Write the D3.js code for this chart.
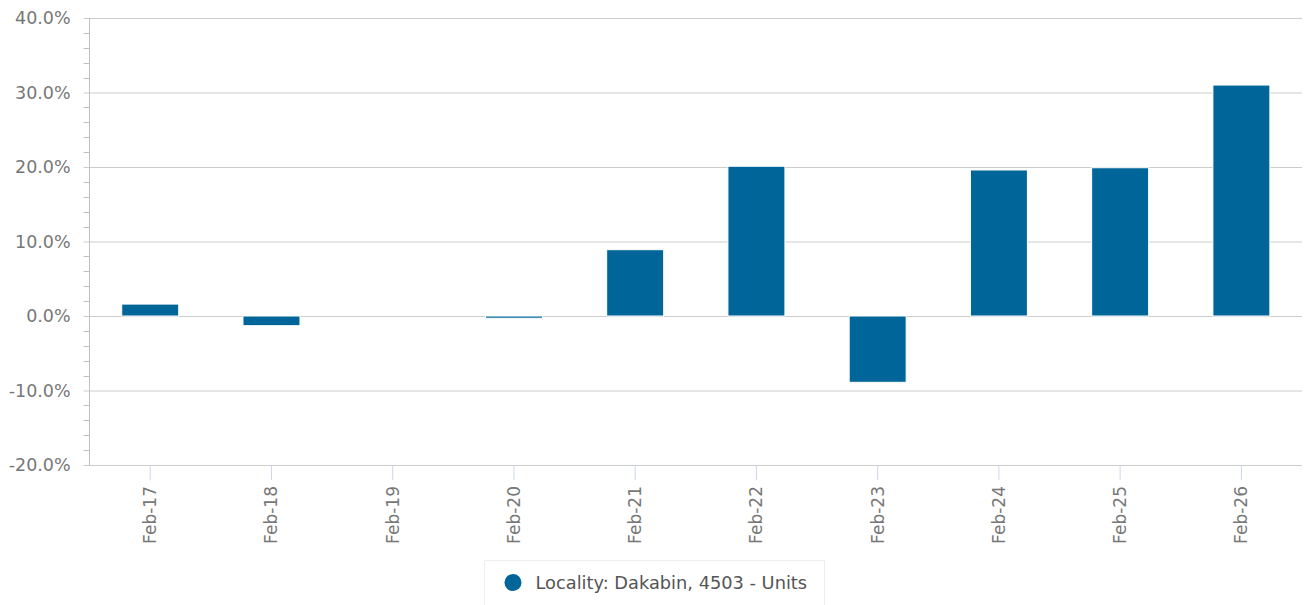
<!DOCTYPE html>
<html>
<head>
<meta charset="utf-8">
<script src="https://cdn.jsdelivr.net/npm/d3@7"></script>
<style>
  body { margin: 0; background: #fff; }
  text { font-family: "DejaVu Sans", sans-serif; }
</style>
</head>
<body>
<div id="chart"></div>
<script>
// data
var categories = ["Feb-17", "Feb-18", "Feb-19", "Feb-20", "Feb-21", "Feb-22", "Feb-23", "Feb-24", "Feb-25", "Feb-26"];
var values = [1.6, -1.3, 0, -0.3, 8.9, 20.1, -8.9, 19.6, 19.9, 31.0];
var yTicks = [-20, -10, 0, 10, 20, 30, 40];
var seriesName = "Locality: Dakabin, 4503 - Units";

var width = 1306, height = 605;
var margin = {top: 18, right: 4, bottom: 140, left: 89.6};
var plotW = width - margin.left - margin.right,
    plotH = height - margin.top - margin.bottom;
var barColor = "#006699";

var svg = d3.select("#chart")
  .append("svg")
  .attr("width", width)
  .attr("height", height);

var g = svg.append("g")
  .attr("transform", "translate(" + margin.left + "," + margin.top + ")");

var x = d3.scaleBand()
  .domain(categories)
  .range([0, plotW])
  .paddingInner(0.53)
  .paddingOuter(0.265);

var y = d3.scaleLinear()
  .domain([-20, 40])
  .range([plotH, 0]);

// minor ticks on the left
var minor = d3.range(-20, 40.001, 2).filter(function(v){ return v % 10 != 0; });
g.append("g")
  .selectAll("line")
  .data(minor)
  .enter().append("line")
  .attr("x1", -6).attr("x2", 0)
  .attr("y1", function(d){ return Math.round(y(d)) + 0.5; })
  .attr("y2", function(d){ return Math.round(y(d)) + 0.5; })
  .attr("stroke", "#c0c0c0");

// gridlines + y labels
var yAxis = g.append("g")
  .call(d3.axisLeft(y).tickValues(yTicks).tickSize(-plotW - 6)
    .tickFormat(function(d){ return d.toFixed(1) + "%"; }));
yAxis.select(".domain").remove();
yAxis.selectAll(".tick line")
  .attr("x1", -6)
  .attr("x2", plotW)
  .attr("stroke", "#cccccc");
yAxis.selectAll(".tick text")
  .attr("x", -19)
  .attr("dy", "0.34em")
  .attr("fill", "#777")
  .style("font-size", "17.5px");

// y axis line
g.append("line")
  .attr("x1", -0.1).attr("x2", -0.1)
  .attr("y1", 0).attr("y2", plotH)
  .attr("stroke", "#c0c0c0");

// bars
g.selectAll(".bar")
  .data(values)
  .enter().append("rect")
  .attr("class", "bar")
  .attr("x", function(d, i){ return x(categories[i]); })
  .attr("width", x.bandwidth())
  .attr("y", function(d){ return y(Math.max(0, d)); })
  .attr("height", function(d){ return Math.abs(y(d) - y(0)); })
  .attr("fill", barColor)
  .attr("stroke", "#fff")
  .attr("stroke-width", 1)
  .attr("display", function(d){ return d == 0 ? "none" : null; });

// x axis
var xAxis = g.append("g")
  .attr("transform", "translate(0," + plotH + ")")
  .call(d3.axisBottom(x).tickSize(15).tickPadding(6));
xAxis.select(".domain").remove();
xAxis.selectAll(".tick line").attr("stroke", "#ccd6eb");
xAxis.selectAll(".tick text")
  .attr("transform", "rotate(-90)")
  .attr("text-anchor", "end")
  .attr("x", -21)
  .attr("y", 0)
  .attr("dy", "0.35em")
  .attr("fill", "#777")
  .style("font-size", "17px");

// legend
var legend = svg.append("g").attr("transform", "translate(484.5,560.5)");
legend.append("rect")
  .attr("width", 340)
  .attr("height", 60)
  .attr("fill", "#fff")
  .attr("stroke", "#eeeeee");
legend.append("circle")
  .attr("cx", 28.5)
  .attr("cy", 22)
  .attr("r", 8.5)
  .attr("fill", barColor);
legend.append("text")
  .attr("x", 51)
  .attr("y", 28.5)
  .attr("fill", "#555")
  .style("font-size", "17.8px")
  .text(seriesName);
</script>
</body>
</html>
